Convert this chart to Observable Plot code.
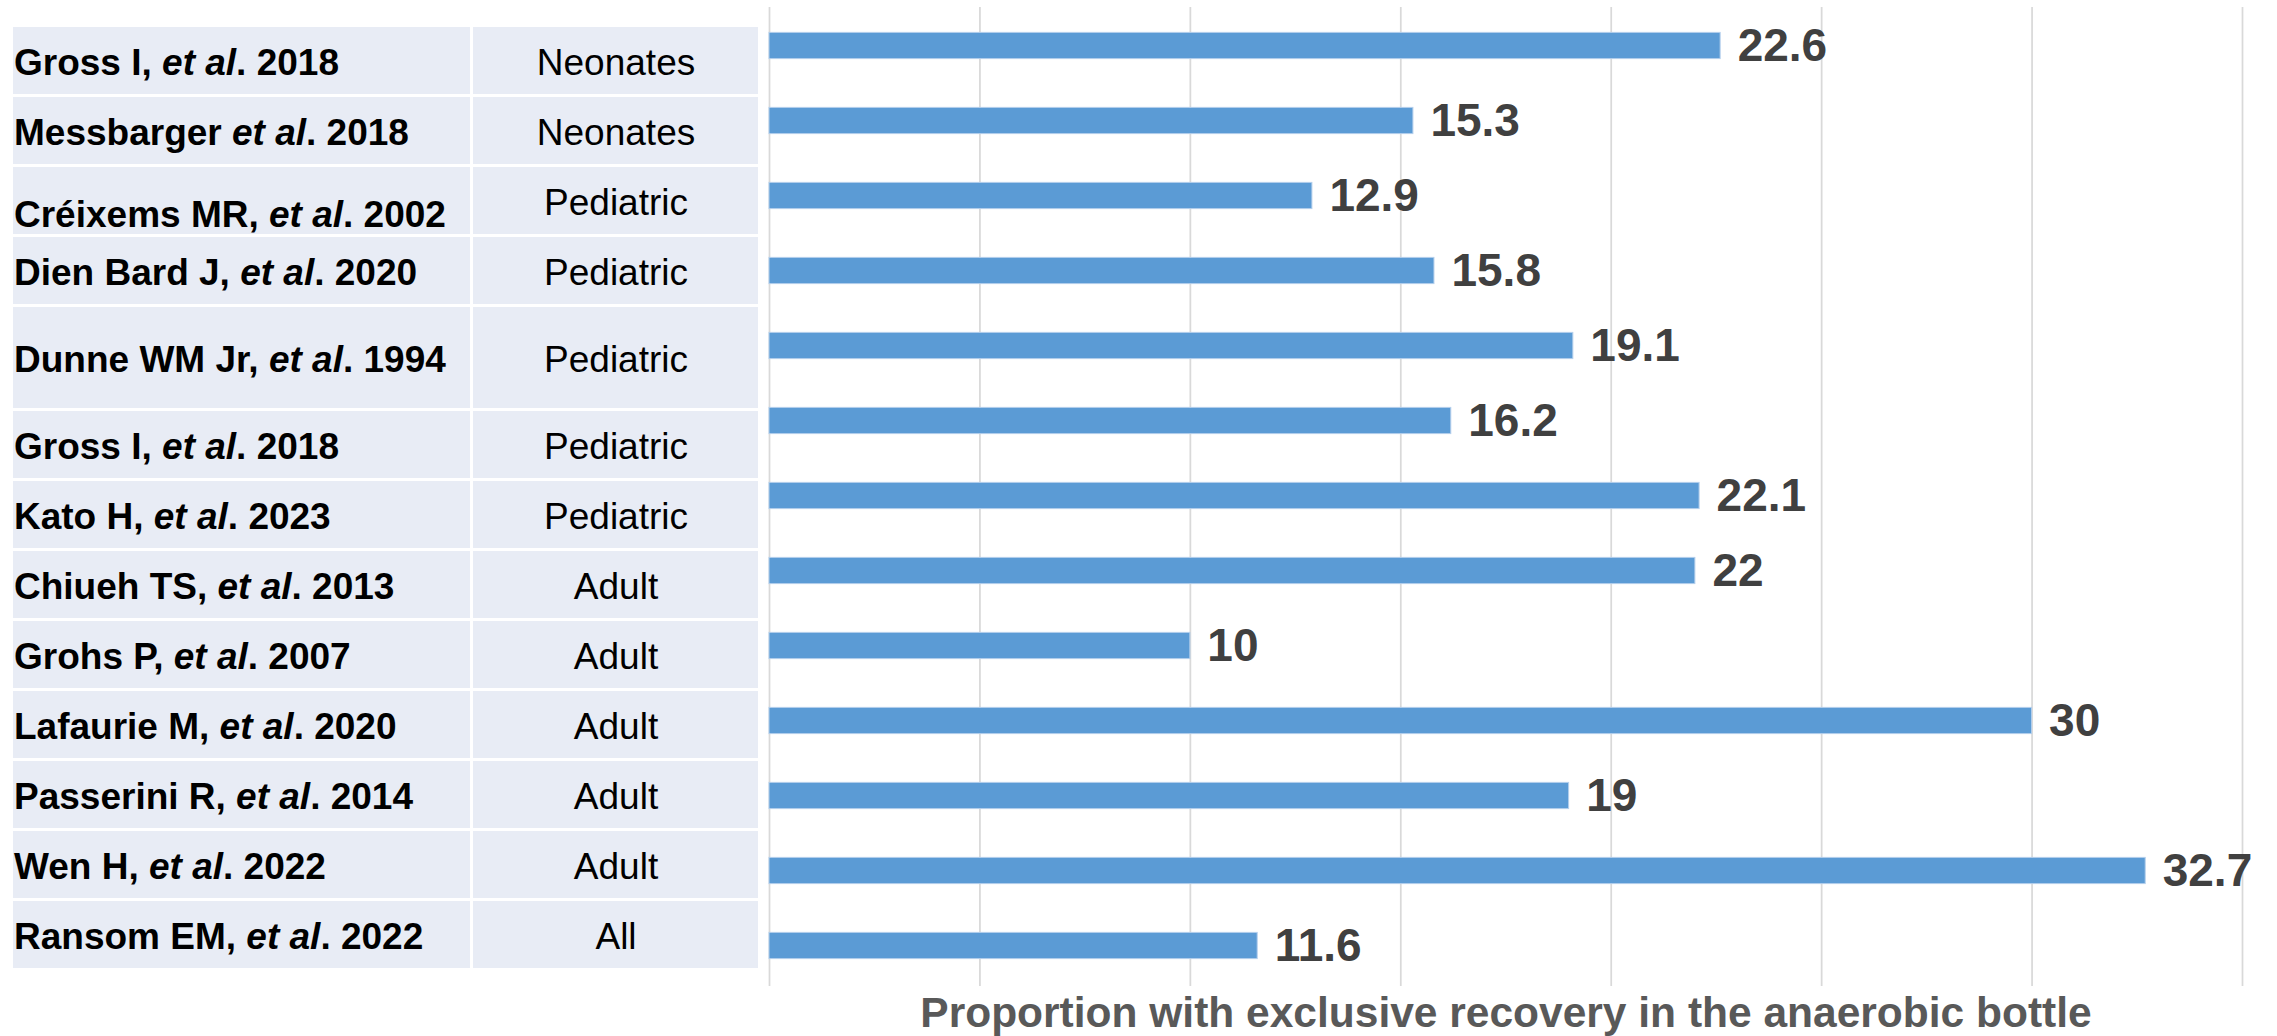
<!DOCTYPE html>
<html>
<head>
<meta charset="utf-8">
<script src="https://cdn.jsdelivr.net/npm/d3@7"></script>
<script src="https://cdn.jsdelivr.net/npm/@observablehq/plot@0.6"></script>
<style>
  html, body { margin: 0; padding: 0; background: #ffffff; }
  #chart { position: relative; width: 2277px; height: 1036px; }
  #chart svg { position: absolute; left: 0; top: 0; }
</style>
</head>
<body>
<div id="chart"></div>
<script>
// Studies reporting blood-culture isolates recovered only from the anaerobic bottle
const studies = [
  "Gross I, et al. 2018",
  "Messbarger et al. 2018",
  "Créixems MR, et al. 2002",
  "Dien Bard J, et al. 2020",
  "Dunne WM Jr, et al. 1994",
  "Gross I, et al. 2018",
  "Kato H, et al. 2023",
  "Chiueh TS, et al. 2013",
  "Grohs P, et al. 2007",
  "Lafaurie M, et al. 2020",
  "Passerini R, et al. 2014",
  "Wen H, et al. 2022",
  "Ransom EM, et al. 2022"
];
const populations = [
  "Neonates", "Neonates",
  "Pediatric", "Pediatric", "Pediatric", "Pediatric", "Pediatric",
  "Adult", "Adult", "Adult", "Adult", "Adult",
  "All"
];
const recovery = [22.6, 15.3, 12.9, 15.8, 19.1, 16.2, 22.1, 22, 10, 30, 19, 32.7, 11.6];
const xTicks = [0, 5, 10, 15, 20, 25, 30, 35];
const xTitle = "Proportion with exclusive recovery in the anaerobic bottle";

const FONT = '"Liberation Sans", Arial, Helvetica, sans-serif';

const rows = studies.map((study, i) => ({i, study, population: populations[i], value: recovery[i]}));

// ---- bar chart ----
const bars = Plot.plot({
  width: 2277,
  height: 1036,
  marginLeft: 769,
  marginRight: 35,
  marginTop: 7,
  marginBottom: 50,
  style: {fontFamily: FONT, background: "#ffffff"},
  x: {domain: [0, 35], axis: null},
  y: {domain: rows.map(d => d.i), range: [5.3, 985.7], padding: 0, axis: null},
  marks: [
    Plot.ruleX(xTicks, {stroke: "#d9d9d9", strokeWidth: 1.75, strokeOpacity: 1}),
    Plot.barX(rows, {
      x: "value", y: "i",
      fill: "#5b9bd5", stroke: "#b4cfec", strokeWidth: 1,
      insetTop: 24.4, insetBottom: 24.4
    }),
    Plot.text(rows, {
      x: "value", y: "i", text: d => String(d.value),
      textAnchor: "start", dx: 17, dy: 0,
      fontSize: 46, fontWeight: "bold", fill: "#404040"
    }),
    Plot.text([xTitle], {
      frameAnchor: "bottom", text: d => d,
      lineAnchor: "bottom", dy: 40,
      fontSize: 42.5, fontWeight: "bold", fill: "#595959"
    })
  ]
});

// ---- study / population table ----
// the Dunne row is drawn taller than the others
const tallRow = 4;
// the Créixems label sits low in its cell
const loweredRow = 2;
let acc = 0;
const cells = rows.map(d => {
  const top = acc;
  acc += d.i === tallRow ? 1.486 : 1;
  return {...d, top, bottom: acc, mid: (top + acc) / 2};
});
const colSplit = 0.615;

const table = Plot.plot({
  width: 770,
  height: 1036,
  margin: 0,
  style: {fontFamily: FONT, background: "transparent"},
  x: {domain: [0, 1], range: [11.5, 759.5], axis: null},
  y: {domain: [0, acc], range: [25.5, 969.5], axis: null},
  marks: [
    Plot.rect(cells, {x1: () => 0, x2: () => colSplit, y1: "top", y2: "bottom", inset: 1.5, fill: "#e8ecf5"}),
    Plot.rect(cells, {x1: () => colSplit, x2: () => 1, y1: "top", y2: "bottom", inset: 1.5, fill: "#e8ecf5"}),
    Plot.text(cells, {
      x: () => 0, y: d => d.mid + (d.i === loweredRow ? 0.17 : 0), text: "study",
      textAnchor: "start", dx: 2, dy: 2,
      fontSize: 37, fontWeight: "bold", fill: "#000000"
    }),
    Plot.text(cells, {
      x: () => (colSplit + 1) / 2, y: "mid", text: "population",
      dy: 2, fontSize: 37, fill: "#000000"
    })
  ]
});

// set "et al" in italics within each study label
d3.select(table).selectAll("text").each(function () {
  const label = this.textContent;
  if (!label.includes("et al")) return;
  const parts = label.split(/(et al)/);
  const sel = d3.select(this);
  sel.selectAll("*").remove();
  sel.text(null);
  parts.forEach(p => {
    if (!p) return;
    const t = sel.append("tspan").text(p);
    if (p === "et al") t.attr("font-style", "italic").style("font-style", "italic");
  });
});

const chart = document.getElementById("chart");
chart.appendChild(bars);
chart.appendChild(table);
</script>
</body>
</html>
